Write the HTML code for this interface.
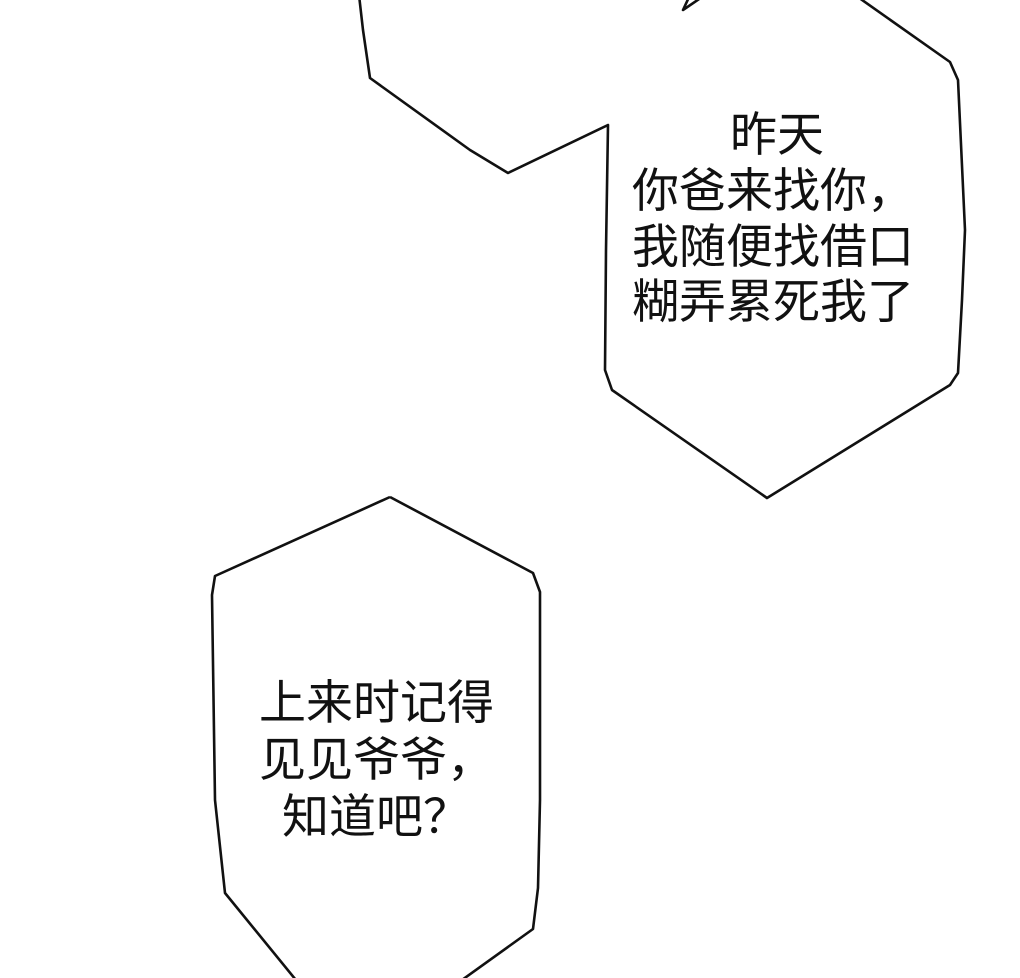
<!DOCTYPE html>
<html><head><meta charset="utf-8"><style>
html,body{margin:0;padding:0;background:#fff;}
svg{display:block;}
text{font-family:"Liberation Sans","Noto Sans CJK SC",sans-serif;font-size:47px;fill:#111;}
</style></head><body>
<svg width="1020" height="978" viewBox="0 0 1020 978" xmlns="http://www.w3.org/2000/svg">
<g fill="#fff" stroke="#111" stroke-width="2.6" stroke-linejoin="round">
<path d="M359,-5 L363,30 L370,78 L470,150 L508,173 L608,125 L606,250 L605,370 L612,390 L767,498 L950,385 L958,373 L962,300 L965,230 L958,80 L950,62 L855,-5"/>
<path d="M690,-5 L683,10 L705,-5"/>
<path d="M390,497 L215,576 L212,595 L215,800 L225,893 L300,985 M390,497 L533,573 L540,592 L540,800 L538,888 L533,929 L455,985"/>
</g>
<text x="730" y="151">昨天</text>
<text x="632" y="207">你爸来找你，</text>
<text x="632" y="263">我随便找借口</text>
<text x="632" y="318">糊弄累死我了</text>
<text x="259" y="719">上来时记得</text>
<text x="259" y="776">见见爷爷，</text>
<text x="282" y="833">知道吧？</text>
</svg>
</body></html>
